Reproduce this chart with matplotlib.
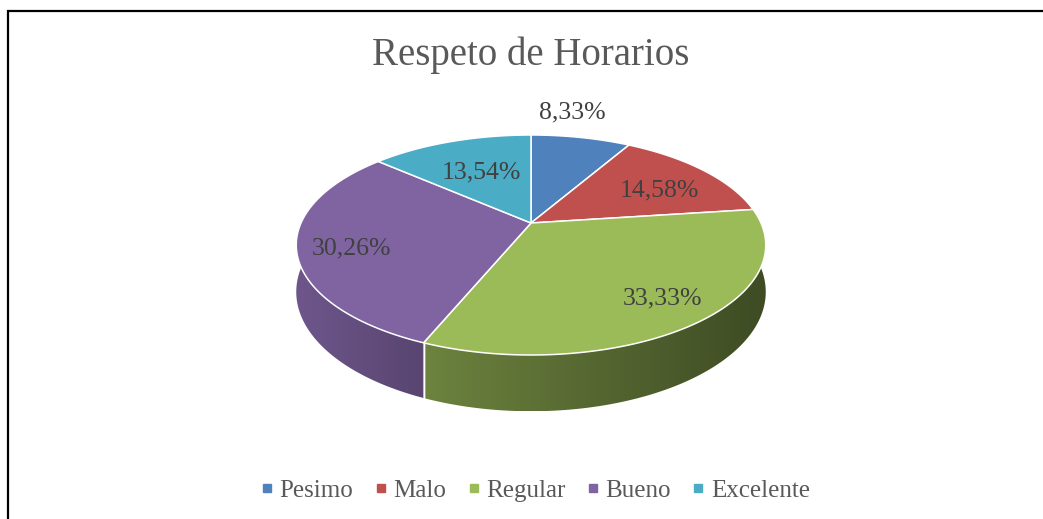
import numpy as np
import matplotlib
matplotlib.use("Agg")
import matplotlib.pyplot as plt
from matplotlib.patches import Polygon
from matplotlib.lines import Line2D

# datos
categorias = ["Pesimo", "Malo", "Regular", "Bueno", "Excelente"]
porcentajes = [8.33, 14.58, 33.33, 30.26, 13.54]
etiquetas = ["8,33%", "14,58%", "33,33%", "30,26%", "13,54%"]
colores = ["#4F81BD", "#C0504D", "#9BBB59", "#8064A2", "#4BACC6"]

plt.rcParams['font.family'] = ['Liberation Serif', 'DejaVu Serif']

# geometria del pastel 3D (en pixeles)
cx, cy = 531, 223
rx, ry = 230, 105.6
k = 0.2        # perspectiva
prof = 45      # espesor


def proj(t, r=1.0, z=0.0):
    t = np.radians(t)
    u, v = r*np.cos(t), r*np.sin(t)
    s = 1/(1 + k*v)
    return cx + rx*u*s, cy - ry*v*s + z*prof*s


fig = plt.figure(figsize=(10.43, 5.19), dpi=100)
ax = fig.add_axes([0, 0, 1, 1])

total = sum(porcentajes)
fr = np.array(porcentajes)/total
cum = np.concatenate([[0], np.cumsum(fr)])
a0s = 90 - cum[:-1]*360
a1s = 90 - cum[1:]*360

# sombreado del lateral (claro -> oscuro)
sombra = [(0.85, 0.6), (0.85, 0.6), (0.70, 0.40), (0.86, 0.69), (0.85, 0.6)]

# caras laterales
for i in range(len(categorias)):
    for sh in [0, -360, 360]:
        lo = max(a1s[i], -180 + sh)
        hi = min(a0s[i], 0 + sh)
        if hi - lo <= 0.01:
            continue
        t = np.linspace(lo, hi, 200)
        xt, yt = proj(t)
        xb, yb = proj(t[::-1], z=1)
        pts = np.column_stack([np.concatenate([xt, xb]), np.concatenate([yt, yb])])
        poly = Polygon(pts, closed=True, facecolor="none", edgecolor="none")
        ax.add_patch(poly)
        x0, x1 = pts[:, 0].min(), pts[:, 0].max()
        y0, y1 = pts[:, 1].min(), pts[:, 1].max()
        base = np.array(matplotlib.colors.to_rgb(colores[i]))
        f = np.linspace(sombra[i][0], sombra[i][1], 256)
        img = (base[None, :]*f[:, None])[None, :, :]
        im = ax.imshow(img, extent=(x0, x1, y1, y0), aspect="auto", zorder=1,
                       interpolation="bilinear")
        im.set_clip_path(poly)
        # linea blanca de separacion vertical
        for tt in [lo, hi]:
            if tt in (a0s[i], a1s[i]):
                xa, ya = proj(tt)
                xb2, yb2 = proj(tt, z=1)
                ax.plot([xa, xb2], [ya, yb2], color="white", lw=1.0, zorder=2)

# cara superior
for i in range(len(categorias)):
    t = np.linspace(a0s[i], a1s[i], 200)
    xs, ys = proj(t)
    pts = np.column_stack([np.concatenate([[cx], xs]), np.concatenate([[cy], ys])])
    ax.add_patch(Polygon(pts, closed=True, facecolor=colores[i], edgecolor="white",
                         lw=1.1, zorder=3))

# etiquetas
lab_r = [1.35, 0.68, 0.8, 0.78, 0.58]
lab_dt = [5.4, -5, 1, 4, 0]
for i in range(len(categorias)):
    mid = (a0s[i] + a1s[i])/2 + lab_dt[i]
    x, y = proj(mid, r=lab_r[i])
    ax.text(x, y, etiquetas[i], ha="center", va="center", fontsize=18.5,
            color="#404040", zorder=5)

ax.text(531, 55, "Respeto de Horarios", ha="center", va="center", fontsize=28,
        color="#595959")

# leyenda
handles = [Line2D([], [], marker="s", linestyle="none", markersize=6,
                  markerfacecolor=c, markeredgecolor=c) for c in colores]
ax.legend(handles, categorias, loc="center", bbox_to_anchor=(0.512, 0.054), ncol=5,
          frameon=False, fontsize=18, handletextpad=0.15, columnspacing=0.75,
          labelcolor="#595959", handlelength=0.7)

# marco
ax.plot([7, 1043], [10.5, 10.5], color="black", lw=1.6, solid_capstyle="butt")
ax.plot([7.5, 7.5], [10, 519], color="black", lw=1.6, solid_capstyle="butt")

ax.set_xlim(0, 1043)
ax.set_ylim(519, 0)
ax.axis("off")

plt.savefig("out.png", dpi=100)
